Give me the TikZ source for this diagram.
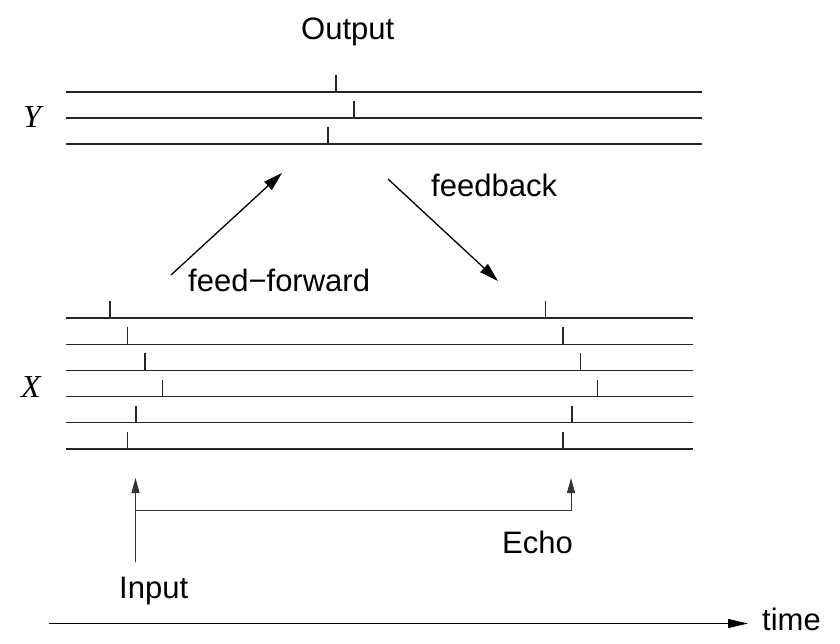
\documentclass[tikz,border=0pt]{standalone}
\usepackage{fontspec}
\setmainfont{Liberation Sans}
\newfontfamily\timesfont{Liberation Serif}
\usetikzlibrary{arrows.meta}
\begin{document}
\begin{tikzpicture}[x=1pt,y=-1pt,
  lbl/.style={font=\fontsize{31}{37}\selectfont, inner sep=0pt, anchor=base west},
  varlbl/.style={font=\fontsize{32}{38}\selectfont\timesfont\itshape, inner sep=0pt, anchor=base west},
  track/.style={line width=1.1pt, black!85},
  tickmark/.style={line width=1.1pt, black!85},
  bigarrow/.style={line width=1.3pt, -{Triangle[length=19pt,width=11pt]}},
  smallarrow/.style={line width=1pt, black!80, -{Triangle[length=15pt,width=8pt]}},
  timearrow/.style={line width=1.2pt, -{Triangle[length=20pt,width=9pt]}}]
\useasboundingbox (0,0) rectangle (840,644);

% labels
\node[lbl] (output) at (301,40) {Output};
\node[varlbl] (ylbl) at (23,128) {Y};
\node[varlbl] (xlbl) at (21,397) {X};
\node[lbl] (ff) at (188,291) {feed−forward};
\node[lbl] (fb) at (431,197) {feedback};
\node[lbl] (echo) at (502,553) {Echo};
\node[lbl] (input) at (119,598) {Input};
\node[lbl] (time) at (762,630) {time};

% Y tracks
\foreach \yy/\tx in {92/336, 118/354, 144/328} {
  \draw[track] (66,\yy) -- (702,\yy);
  \draw[tickmark] (\tx,\yy) -- (\tx,\yy-17);
}

% X tracks
\foreach \yy/\ta/\tb in {318/110/545.5, 344.2/127.5/563, 370.4/145/580.5, 396.6/162.5/597.5, 422.8/136/572, 449/127.5/563} {
  \draw[track] (66,\yy) -- (693,\yy);
  \draw[tickmark] (\ta,\yy) -- (\ta,\yy-17);
  \draw[tickmark] (\tb,\yy) -- (\tb,\yy-17);
}

% feed-forward / feedback arrows
\coordinate (ffs) at (171,275);
\coordinate (ffe) at (282,173);
\coordinate (fbs) at (388,179);
\coordinate (fbe) at (498,281);
\draw[bigarrow] (ffs) -- (ffe);
\draw[bigarrow] (fbs) -- (fbe);

% input / echo arrows
\coordinate (ins) at (135.5,562);
\coordinate (ine) at (135.5,478);
\coordinate (ecs) at (135.5,510);
\coordinate (ecc) at (571,510);
\coordinate (ece) at (571,478);
\draw[smallarrow] (ins) -- (ine);
\draw[smallarrow] (ecs) -- (ecc) -- (ece);

% time axis
\coordinate (ts) at (49,623.5);
\coordinate (te) at (748,623.5);
\draw[timearrow] (ts) -- (te);
\end{tikzpicture}
\end{document}
